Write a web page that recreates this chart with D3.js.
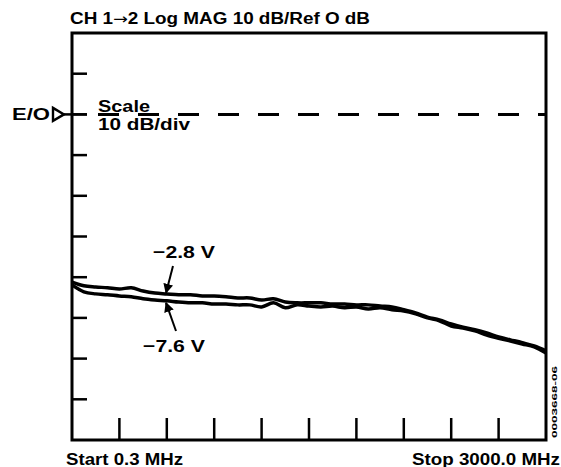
<!DOCTYPE html>
<html lang="en">
<head>
    <meta charset="UTF-8">
    <title>CH 1-2 Log MAG</title>
    <style>
    body { margin: 0; background: #fff; }
    svg text { font-family: "Liberation Sans", Arial, sans-serif; font-weight: bold; fill: #000; }
    </style>
</head>
<body>
    <div class="chart"></div>
    <script src="https://d3js.org/d3.v7.min.js"></script>
    <script type="text/javascript">
    // frequency points in MHz (linear sweep 0.3 .. 3000)
    var freqs = [0.3, 75, 150, 225, 300, 375, 450, 525, 600, 675, 750, 825, 900, 975,
        1050, 1125, 1200, 1275, 1350, 1425, 1500, 1575, 1650, 1725, 1800, 1875, 1950,
        2025, 2100, 2175, 2250, 2325, 2400, 2475, 2550, 2625, 2700, 2775, 2850, 2925, 3000];

    // response in dB, bias -2.8 V
    var trace28 = [-41.2, -42.1, -42.4, -42.6, -42.9, -42.6, -43.4, -43.9, -44.1, -44.3,
        -44.3, -44.6, -44.6, -44.8, -45.1, -45.1, -45.6, -45.3, -46.1, -46.3, -46.3,
        -46.3, -46.6, -46.6, -46.8, -46.8, -47.1, -47.3, -48.0, -48.8, -49.8, -50.5,
        -51.5, -52.3, -52.9, -53.7, -54.7, -55.4, -56.1, -56.9, -58.1];

    // response in dB, bias -7.6 V
    var trace76 = [-41.9, -43.6, -44.1, -44.3, -44.6, -44.8, -45.3, -45.6, -45.8, -46.1,
        -46.3, -46.3, -46.6, -46.6, -46.8, -46.8, -47.3, -46.3, -47.5, -46.8, -47.1,
        -47.3, -47.1, -47.5, -47.3, -47.8, -47.5, -48.0, -48.3, -49.0, -50.0, -50.7,
        -52.0, -52.5, -53.2, -54.2, -55.0, -55.7, -56.4, -57.1, -58.6];

    var refLevel = 0;           // Ref 0 dB (E/O marker)
    var yDomain = [-80, 20];    // 10 dB/div, 10 divisions
    var xDomain = [0, 3000];

    var width = 561,
        height = 467;
    var mLeft = 72, mRight = 546, mTop = 33, mBottom = 440;

    var svg = d3.select(".chart").append("svg")
        .attr("width", width)
        .attr("height", height);

    var x = d3.scaleLinear().domain(xDomain).range([mLeft, mRight]);
    var y = d3.scaleLinear().domain(yDomain).range([mBottom, mTop]);

    // title
    var title = svg.append("text")
        .attr("x", 70).attr("y", 24)
        .attr("font-size", 16)
        .attr("textLength", 300).attr("lengthAdjust", "spacingAndGlyphs");
    title.append("tspan").text("CH 1");
    title.append("tspan").attr("font-family", "DejaVu Sans").attr("font-weight", "normal")
        .attr("font-size", 15).text("\u2192");
    title.append("tspan").text("2  Log MAG 10 dB/Ref O dB");

    // left ticks (inside the frame)
    svg.append("g").selectAll("line")
        .data(d3.range(-70, 20, 10))
        .enter().append("line")
        .attr("x1", mLeft).attr("x2", mLeft + 15)
        .attr("y1", function(d) { return y(d); })
        .attr("y2", function(d) { return y(d); })
        .attr("stroke", "#000").attr("stroke-width", 2.5);

    // bottom ticks
    var xt = d3.range(1, 10).map(function(i) { return xDomain[0] + i * (xDomain[1] - xDomain[0]) / 10; });
    svg.append("g").selectAll("line")
        .data(xt)
        .enter().append("line")
        .attr("x1", function(d) { return x(d); })
        .attr("x2", function(d) { return x(d); })
        .attr("y1", mBottom).attr("y2", mBottom - 22)
        .attr("stroke", "#000").attr("stroke-width", 2.5);

    // frame
    svg.append("rect")
        .attr("x", mLeft).attr("y", mTop)
        .attr("width", mRight - mLeft).attr("height", mBottom - mTop)
        .attr("fill", "none").attr("stroke", "#000").attr("stroke-width", 3);

    // reference line
    svg.append("line")
        .attr("x1", 98).attr("x2", mRight)
        .attr("y1", y(refLevel)).attr("y2", y(refLevel))
        .attr("stroke", "#000").attr("stroke-width", 3)
        .attr("stroke-dasharray", "21,19");

    // E/O marker
    svg.append("text")
        .attr("x", 12).attr("y", y(refLevel) + 6)
        .attr("font-size", 16)
        .attr("textLength", 38).attr("lengthAdjust", "spacingAndGlyphs")
        .text("E/O");
    svg.append("path")
        .attr("d", "M53," + (y(refLevel) - 6.5) + "L64," + y(refLevel) + "L53," + (y(refLevel) + 6.5) + "Z")
        .attr("fill", "#fff").attr("stroke", "#000").attr("stroke-width", 2.4);
    svg.append("line")
        .attr("x1", 64).attr("x2", mLeft + 15)
        .attr("y1", y(refLevel)).attr("y2", y(refLevel))
        .attr("stroke", "#000").attr("stroke-width", 2.5);

    svg.append("text")
        .attr("x", 98).attr("y", y(refLevel) - 2)
        .attr("font-size", 16)
        .attr("textLength", 52).attr("lengthAdjust", "spacingAndGlyphs")
        .text("Scale");
    svg.append("text")
        .attr("x", 98).attr("y", y(refLevel) + 16)
        .attr("font-size", 16)
        .attr("textLength", 92).attr("lengthAdjust", "spacingAndGlyphs")
        .text("10 dB/div");

    // traces
    var line = d3.line()
        .x(function(d, i) { return x(freqs[i]); })
        .y(function(d) { return y(d); })
        .curve(d3.curveCatmullRom);

    [trace28, trace76].forEach(function(t) {
        svg.append("path")
            .attr("d", line(t))
            .attr("fill", "none")
            .attr("stroke", "#000")
            .attr("stroke-width", 3.5)
            .attr("stroke-linejoin", "round");
    });

    // arrow labels
    svg.append("defs").append("marker")
        .attr("id", "head")
        .attr("viewBox", "0 0 10 10")
        .attr("refX", 9).attr("refY", 5)
        .attr("markerWidth", 5).attr("markerHeight", 5)
        .attr("markerUnits", "strokeWidth")
        .attr("orient", "auto")
        .append("path").attr("d", "M0,0L10,5L0,10Z").attr("fill", "#000");

    var f1 = freqs[8] - 5;
    svg.append("line")
        .attr("x1", 173).attr("y1", 266)
        .attr("x2", x(f1)).attr("y2", y(trace28[8]) - 1)
        .attr("stroke", "#000").attr("stroke-width", 2)
        .attr("marker-end", "url(#head)");
    svg.append("text")
        .attr("x", 153).attr("y", 258)
        .attr("font-size", 17)
        .attr("textLength", 62).attr("lengthAdjust", "spacingAndGlyphs")
        .text("\u22122.8 V");

    svg.append("line")
        .attr("x1", 176).attr("y1", 331)
        .attr("x2", x(f1)).attr("y2", y(trace76[8]) + 2)
        .attr("stroke", "#000").attr("stroke-width", 2)
        .attr("marker-end", "url(#head)");
    svg.append("text")
        .attr("x", 143).attr("y", 352)
        .attr("font-size", 17)
        .attr("textLength", 62).attr("lengthAdjust", "spacingAndGlyphs")
        .text("\u22127.6 V");

    // start / stop
    svg.append("text")
        .attr("x", 66).attr("y", 465)
        .attr("font-size", 16)
        .attr("textLength", 117).attr("lengthAdjust", "spacingAndGlyphs")
        .text("Start 0.3 MHz");
    svg.append("text")
        .attr("x", 412).attr("y", 465)
        .attr("font-size", 16)
        .attr("textLength", 148).attr("lengthAdjust", "spacingAndGlyphs")
        .text("Stop 3000.0 MHz");

    // figure id, rotated
    svg.append("text")
        .attr("transform", "translate(557,438) rotate(-90)")
        .attr("font-size", 8)
        .attr("textLength", 72).attr("lengthAdjust", "spacingAndGlyphs")
        .text("0003668-06");
    </script>
</body>
</html>
